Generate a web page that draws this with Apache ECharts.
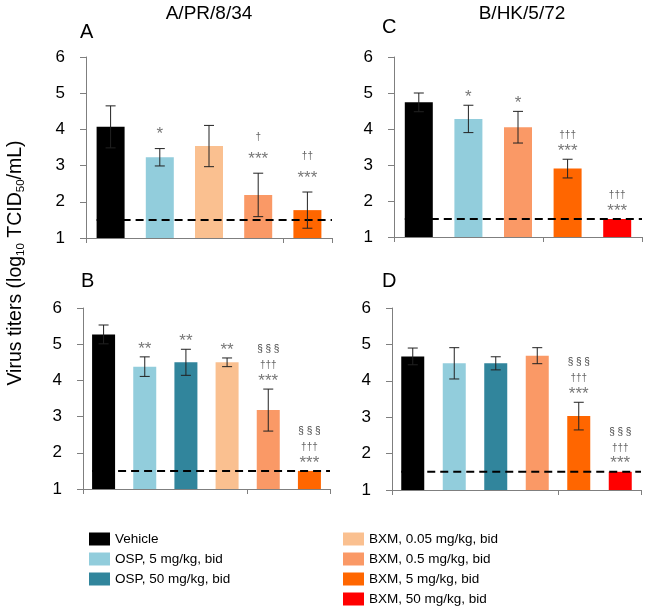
<!DOCTYPE html>
<html>
<head>
<meta charset="utf-8">
<script src="https://cdn.jsdelivr.net/npm/echarts@6/dist/echarts.min.js"></script>
<style>html,body{margin:0;padding:0;background:#fff}#c{width:646px;height:608px}</style>
</head>
<body>
<div id="c"></div>
<script>
// ---------- data ----------
const treatments = ['Vehicle', 'OSP, 5 mg/kg, bid', 'OSP, 50 mg/kg, bid', 'BXM, 0.05 mg/kg, bid', 'BXM, 0.5 mg/kg, bid', 'BXM, 5 mg/kg, bid', 'BXM, 50 mg/kg, bid'];
const treatmentColors = ['#000000', '#92CDDC', '#31859C', '#FAC090', '#FA9966', '#FF6600', '#FF0000'];

const strainTitles = ['A/PR/8/34', 'B/HK/5/72'];
const yAxisTitle = 'Virus titers (log{sub|10} TCID{sub|50}/mL)';
const yMin = 1, yMax = 6, yInterval = 1;
const detectionLimit = 1.5;

// Panel A : A/PR/8/34
const panelA_groups = [0, 1, 3, 4, 5];
const panelA_means  = [4.07, 3.23, 3.54, 2.19, 1.77];
const panelA_sd     = [0.58, 0.24, 0.57, 0.60, 0.50];
const panelA_marks  = [[], ['*'], [], ['†', '***'], ['††', '***']];

// Panel B : A/PR/8/34
const panelB_groups = [0, 1, 2, 3, 4, 5];
const panelB_means  = [5.27, 4.38, 4.50, 4.50, 3.18, 1.50];
const panelB_sd     = [0.26, 0.27, 0.36, 0.12, 0.58, 0];
const panelB_marks  = [[], ['**'], ['**'], ['**'], ['§§§', '†††', '***'], ['§§§', '†††', '***']];

// Panel C : B/HK/5/72
const panelC_groups = [0, 1, 4, 5, 6];
const panelC_means  = [4.74, 4.28, 4.05, 2.90, 1.50];
const panelC_sd     = [0.26, 0.38, 0.44, 0.26, 0];
const panelC_marks  = [[], ['*'], ['*'], ['†††', '***'], ['†††', '***']];

// Panel D : B/HK/5/72
const panelD_groups = [0, 1, 2, 4, 5, 6];
const panelD_means  = [4.67, 4.48, 4.48, 4.69, 3.03, 1.50];
const panelD_sd     = [0.23, 0.43, 0.18, 0.22, 0.38, 0];
const panelD_marks  = [[], [], [], [], ['§§§', '†††', '***'], ['§§§', '†††', '***']];

// ---------- layout ----------
const FONT = '"Liberation Sans", Arial, Helvetica, sans-serif';
const panels = [
  { letter: 'A', groups: panelA_groups, means: panelA_means, sd: panelA_sd, marks: panelA_marks,
    grid: { left: 86, top: 57, width: 246, height: 181 }, barWidth: 28, lh: 22, lhs: 22, gap: 3, letterPos: [80, 32] },
  { letter: 'B', groups: panelB_groups, means: panelB_means, sd: panelB_sd, marks: panelB_marks,
    grid: { left: 83, top: 308, width: 247, height: 181 }, barWidth: 23, lh: 16, lhs: 16, gap: 0, letterPos: [81, 281] },
  { letter: 'C', groups: panelC_groups, means: panelC_means, sd: panelC_sd, marks: panelC_marks,
    grid: { left: 394, top: 57, width: 248, height: 180 }, barWidth: 28, lh: 16, lhs: 16, gap: 0, letterPos: [382, 27] },
  { letter: 'D', groups: panelD_groups, means: panelD_means, sd: panelD_sd, marks: panelD_marks,
    grid: { left: 392, top: 308, width: 249, height: 182 }, barWidth: 23, lh: 16, lhs: 16, gap: 0, letterPos: [382, 281] }
];

function markLine(str) {
  const key = str.indexOf('§') >= 0 ? 'p' : (str.indexOf('†') >= 0 ? 'd' : 's');
  let t = str;
  if (key === 'p') t = str.split('').join(' ');
  return '{' + key + '|' + t + '}';
}

const grids = [], xAxes = [], yAxes = [], series = [], graphics = [];
const axisGray = '#7f7f7f';

panels.forEach((p, k) => {
  grids.push(Object.assign({ containLabel: false }, p.grid));
  xAxes.push({
    type: 'category', gridIndex: k,
    data: p.groups.map(g => treatments[g]),
    axisLine: { show: true, lineStyle: { color: axisGray, width: 1 } },
    axisTick: { show: true, length: 5, lineStyle: { color: axisGray } },
    axisLabel: { show: false }, splitLine: { show: false }
  });
  yAxes.push({
    type: 'value', gridIndex: k, min: yMin, max: yMax, interval: yInterval,
    axisLine: { show: true, lineStyle: { color: axisGray, width: 1 } },
    axisTick: { show: true, length: 6, lineStyle: { color: axisGray } },
    axisLabel: { color: '#000', fontSize: 17, fontFamily: FONT, margin: 21 },
    splitLine: { show: false }
  });
  series.push({
    type: 'bar', xAxisIndex: k, yAxisIndex: k, barWidth: p.barWidth, clip: true,
    data: p.means.map((v, i) => ({ value: v, itemStyle: { color: treatmentColors[p.groups[i]] } })),
    silent: true, z: 2
  });
  // error bars and significance marks
  series.push({
    type: 'custom', xAxisIndex: k, yAxisIndex: k, z: 5, silent: true,
    data: p.means.map((v, i) => [i, v, p.sd[i]]),
    renderItem: function (params, api) {
      const i = api.value(0), m = api.value(1), s = api.value(2);
      const c = api.coord([i, m]);
      const top = api.coord([i, m + s]);
      const bot = api.coord([i, m - s]);
      const children = [];
      if (s > 0) {
        const ls = { stroke: '#222', lineWidth: 1 };
        children.push({ type: 'line', shape: { x1: c[0], y1: top[1], x2: c[0], y2: bot[1] }, style: ls });
        children.push({ type: 'line', shape: { x1: c[0] - 5, y1: top[1], x2: c[0] + 5, y2: top[1] }, style: ls });
        children.push({ type: 'line', shape: { x1: c[0] - 5, y1: bot[1], x2: c[0] + 5, y2: bot[1] }, style: ls });
      }
      const mk = p.marks[params.dataIndex];
      if (mk && mk.length) {
        children.push({
          type: 'text',
          style: {
            text: mk.map(markLine).join('\n'),
            x: c[0], y: top[1] - p.gap,
            align: 'center', verticalAlign: 'bottom',
            textAlign: 'center', textVerticalAlign: 'bottom',
            fontFamily: FONT,
            rich: {
              s: { fontSize: 17, lineHeight: p.lh, fill: '#777', color: '#777', fontFamily: FONT },
              d: { fontSize: 10, lineHeight: p.lhs, fill: '#666', color: '#666', fontFamily: FONT },
              p: { fontSize: 10, lineHeight: p.lhs, fill: '#444', color: '#444', fontFamily: FONT }
            }
          }
        });
      }
      return { type: 'group', children: children };
    }
  });
  // detection limit dashed line
  series.push({
    type: 'custom', xAxisIndex: k, yAxisIndex: k, z: 4, silent: true,
    data: [[0, detectionLimit]],
    renderItem: function (params, api) {
      const cs = params.coordSys;
      const pt = api.coord([api.value(0), api.value(1)]);
      const x1 = pt[0] - p.barWidth / 2;
      return {
        type: 'line',
        shape: { x1: x1, y1: pt[1], x2: cs.x + cs.width, y2: pt[1] },
        style: { stroke: '#000', lineWidth: 2, lineDash: [8, 5] }
      };
    }
  });
  graphics.push({
    type: 'text', x: p.letterPos[0], y: p.letterPos[1],
    style: { text: p.letter, fontSize: 20, fontFamily: FONT, fill: '#000', align: 'left', verticalAlign: 'middle', textAlign: 'left', textVerticalAlign: 'middle' }
  });
});

// legend series (no data, only legend entries)
treatments.forEach((t, i) => {
  series.push({ type: 'scatter', name: t, xAxisIndex: 0, yAxisIndex: 0, data: [], itemStyle: { color: treatmentColors[i], opacity: 1 } });
});

graphics.push({
  type: 'text', x: 209, y: 14,
  style: { text: strainTitles[0], fontSize: 19, fontFamily: FONT, fill: '#000', align: 'center', verticalAlign: 'middle', textAlign: 'center', textVerticalAlign: 'middle' }
});
graphics.push({
  type: 'text', x: 522, y: 14,
  style: { text: strainTitles[1], fontSize: 19, fontFamily: FONT, fill: '#000', align: 'center', verticalAlign: 'middle', textAlign: 'center', textVerticalAlign: 'middle' }
});
graphics.push({
  type: 'text', x: 16, y: 263, rotation: Math.PI / 2,
  style: {
    text: yAxisTitle, fontSize: 19.5, fontFamily: FONT, fill: '#000',
    align: 'center', verticalAlign: 'middle', textAlign: 'center', textVerticalAlign: 'middle',
    lineHeight: 22,
    rich: { sub: { fontSize: 11.5, lineHeight: 11, verticalAlign: 'bottom', fill: '#000', fontFamily: FONT } }
  }
});

const legendCommon = {
  orient: 'vertical', icon: 'rect', itemWidth: 21, itemHeight: 13, itemGap: 6,
  selectedMode: false, padding: 0, height: 80,
  textStyle: { fontSize: 13.5, fontFamily: FONT, color: '#000' }
};

const chart = echarts.init(document.getElementById('c'), null, { renderer: 'canvas' });
chart.setOption({
  backgroundColor: '#fff',
  animation: false,
  grid: grids, xAxis: xAxes, yAxis: yAxes,
  legend: [
    Object.assign({ left: 89, top: 532, data: treatments.slice(0, 3) }, legendCommon),
    Object.assign({ left: 343, top: 532, data: treatments.slice(3) }, legendCommon)
  ],
  graphic: graphics,
  series: series
});
</script>
</body>
</html>
